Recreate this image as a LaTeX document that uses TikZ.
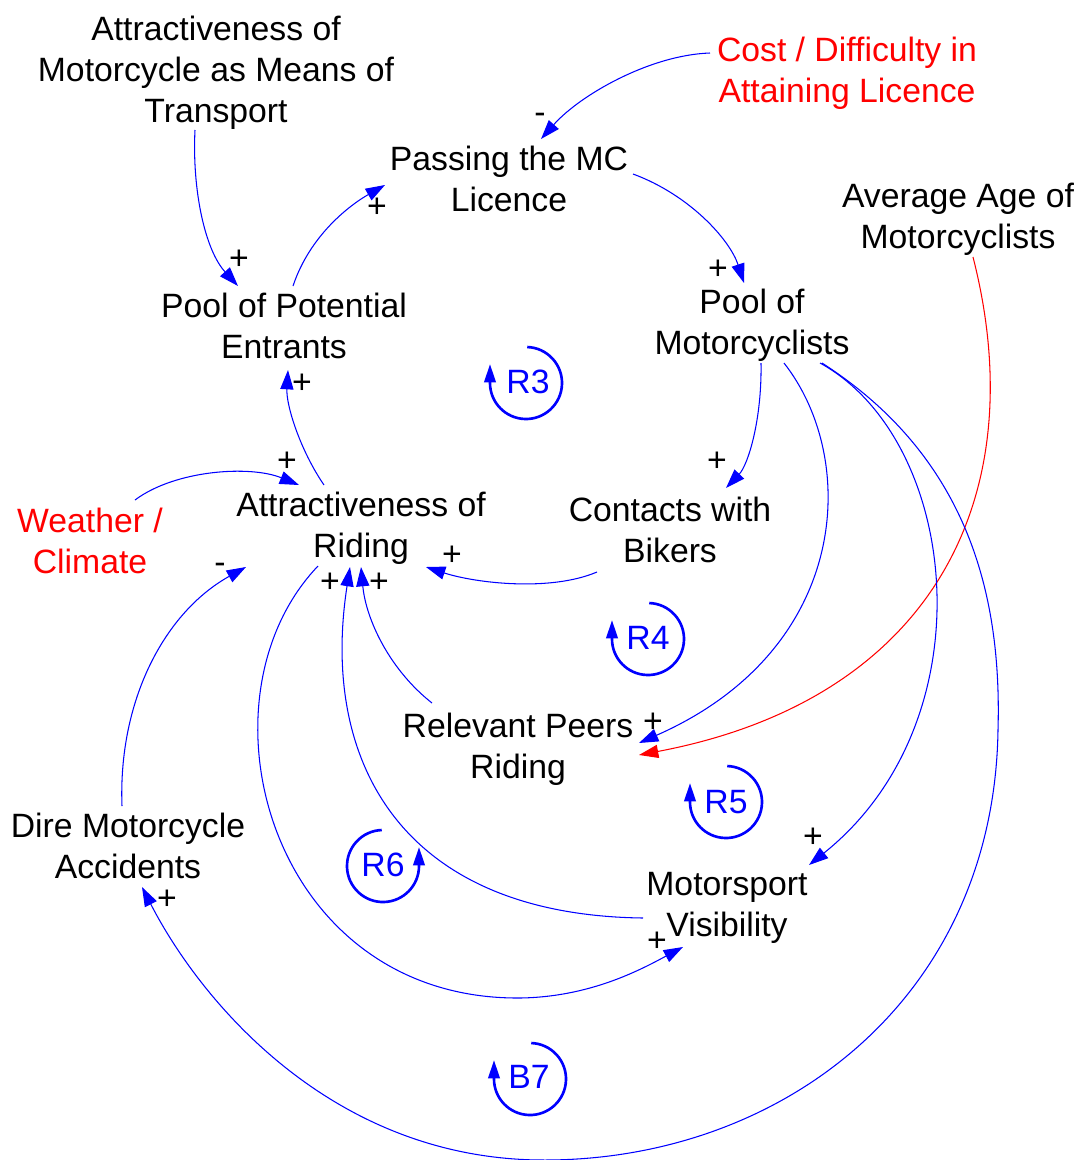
\documentclass[tikz,border=0pt]{standalone}
\usepackage{fontspec}
\setmainfont{Liberation Sans}
\usetikzlibrary{arrows.meta}
\definecolor{vblue}{RGB}{0,0,255}
\definecolor{vred}{RGB}{255,0,0}
\begin{document}
\begin{tikzpicture}[x=0.02cm,y=0.02cm,
  lbl/.style={font=\fontsize{19.2}{23.3}\selectfont, align=center, inner sep=0pt},
  sgn/.style={font=\fontsize{19.2}{23.3}\selectfont, inner sep=0pt},
  lnk/.style={draw=vblue, line width=0.6pt, -{Triangle[length=11pt,width=7.5pt]}},
  redlnk/.style={lnk, draw=vred, -{Triangle[length=11pt,width=7.5pt,fill=vred]}},
  loopa/.style={draw=vblue, line width=1.5pt, -{Triangle[length=10.5pt,width=6.5pt]}},
  looplbl/.style={font=\fontsize{19.2}{23.3}\selectfont, text=vblue, inner sep=0pt}
]
\useasboundingbox (0,0) rectangle (1082,-1160);

% variables
\node[lbl] (amt) at (216,-73) {Attractiveness of\\Motorcycle as Means of\\Transport};
\node[lbl,text=vred] (cost) at (847,-73) {Cost / Difficulty in\\Attaining Licence};
\node[lbl] (pass) at (509,-179) {Passing the MC\\Licence};
\node[lbl] (age) at (958,-219) {Average Age of\\Motorcyclists};
\node[lbl] (ppe) at (284,-326) {Pool of Potential\\Entrants};
\node[lbl] (pm) at (752,-325) {Pool of\\Motorcyclists};
\node[lbl,text=vred] (wc) at (90,-541) {Weather /\\Climate};
\node[lbl] (ar) at (361,-528) {Attractiveness of\\Riding};
\node[lbl] (cb) at (670,-530) {Contacts with\\Bikers};
\node[lbl] (rpr) at (518,-749) {Relevant Peers\\Riding};
\node[lbl] (dma) at (128,-846) {Dire Motorcycle\\Accidents};
\node[lbl] (msv) at (727,-908) {Motorsport\\Visibility};

% links
\draw[lnk] ([shift={(-21,-57)}]amt.center) .. controls (192,-190) and (205,-250) .. ([shift={(-46,40)}]ppe.center);
\draw[lnk] ([shift={(9,40)}]ppe.center) .. controls (310,-235) and (350,-205) .. ([shift={(-124,-6)}]pass.center);
\draw[lnk] ([shift={(-137,20)}]cost.center) .. controls (650,-55) and (580,-95) .. ([shift={(32,40)}]pass.center);
\draw[lnk] ([shift={(124,5)}]pass.center) .. controls (690,-195) and (730,-240) .. ([shift={(-8,42)}]pm.center);
\draw[redlnk] ([shift={(15,-38)}]age.center) .. controls (1035,-500) and (930,-700) .. ([shift={(121,-6)}]rpr.center);
\draw[lnk] ([shift={(9,-38)}]pm.center) .. controls (762,-420) and (748,-465) .. ([shift={(56,42)}]cb.center);
\draw[lnk] ([shift={(32,-38)}]pm.center) .. controls (860,-460) and (850,-650) .. ([shift={(121,6)}]rpr.center);
\draw[lnk] ([shift={(68,-38)}]pm.center) .. controls (960,-440) and (990,-720) .. ([shift={(82,43)}]msv.center);
\draw[lnk] ([shift={(70,-38)}]pm.center) .. controls (965,-455) and (1002,-590) .. (998,-730)
   .. controls (994,-1000) and (780,-1162) .. (540,-1160)
   .. controls (330,-1158) and (200,-1000) .. ([shift={(14,-41)}]dma.center);
\draw[lnk] ([shift={(-73,-42)}]cb.center) .. controls (550,-592) and (475,-583) .. ([shift={(65,-39)}]ar.center);
\draw[lnk] ([shift={(-37,43)}]ar.center) .. controls (300,-450) and (286,-405) .. ([shift={(4,-44)}]ppe.center);
\draw[lnk] ([shift={(45,41)}]wc.center) .. controls (175,-470) and (250,-465) .. ([shift={(-62,43)}]ar.center);
\draw[lnk] ([shift={(-6,40)}]dma.center) .. controls (118,-700) and (165,-612) .. ([shift={(-115,-39)}]ar.center);
\draw[lnk] ([shift={(-43,-38)}]ar.center) .. controls (190,-700) and (270,-1000) .. (520,-998)
   .. controls (590,-997) and (640,-970) .. ([shift={(-44,-39)}]msv.center);
\draw[lnk] ([shift={(-84,-10)}]msv.center) .. controls (400,-915) and (320,-760) .. ([shift={(-11,-39)}]ar.center);
\draw[lnk] ([shift={(-86,46)}]rpr.center) .. controls (390,-670) and (366,-620) .. ([shift={(0,-39)}]ar.center);

% polarity signs
\node[sgn] (s1) at (239,-260) {+};
\node[sgn] (s2) at (377,-208) {+};
\node[sgn] (s3) at (540,-118) {-};
\node[sgn] (s4) at (718,-270) {+};
\node[sgn] (s5) at (717,-462) {+};
\node[sgn] (s6) at (653,-723) {+};
\node[sgn] (s7) at (813,-838) {+};
\node[sgn] (s8) at (167,-900) {+};
\node[sgn] (s9) at (452,-556) {+};
\node[sgn] (s10) at (302,-384) {+};
\node[sgn] (s11) at (287,-462) {+};
\node[sgn] (s12) at (220,-568) {-};
\node[sgn] (s13) at (657,-942) {+};
\node[sgn] (s14) at (330,-583) {+};
\node[sgn] (s15) at (379,-583) {+};

% loop identifiers
\node[looplbl] (r3) at (528,-382) {R3};
\draw[loopa] (526,-383) ++(88:36) arc[start angle=88, end angle=-180, radius=36] -- ++(0,19);
\node[looplbl] (r4) at (648,-638) {R4};
\draw[loopa] (648,-639) ++(88:36) arc[start angle=88, end angle=-180, radius=36] -- ++(0,19);
\node[looplbl] (r5) at (726,-802) {R5};
\draw[loopa] (726,-802) ++(88:36) arc[start angle=88, end angle=-180, radius=36] -- ++(0,19);
\node[looplbl] (r6) at (383,-865) {R6};
\draw[loopa] (383,-866) ++(92:36) arc[start angle=92, end angle=360, radius=36] -- ++(0,19);
\node[looplbl] (b7) at (529,-1077) {B7};
\draw[loopa] (530,-1079) ++(88:36) arc[start angle=88, end angle=-180, radius=36] -- ++(0,19);
\end{tikzpicture}
\end{document}
